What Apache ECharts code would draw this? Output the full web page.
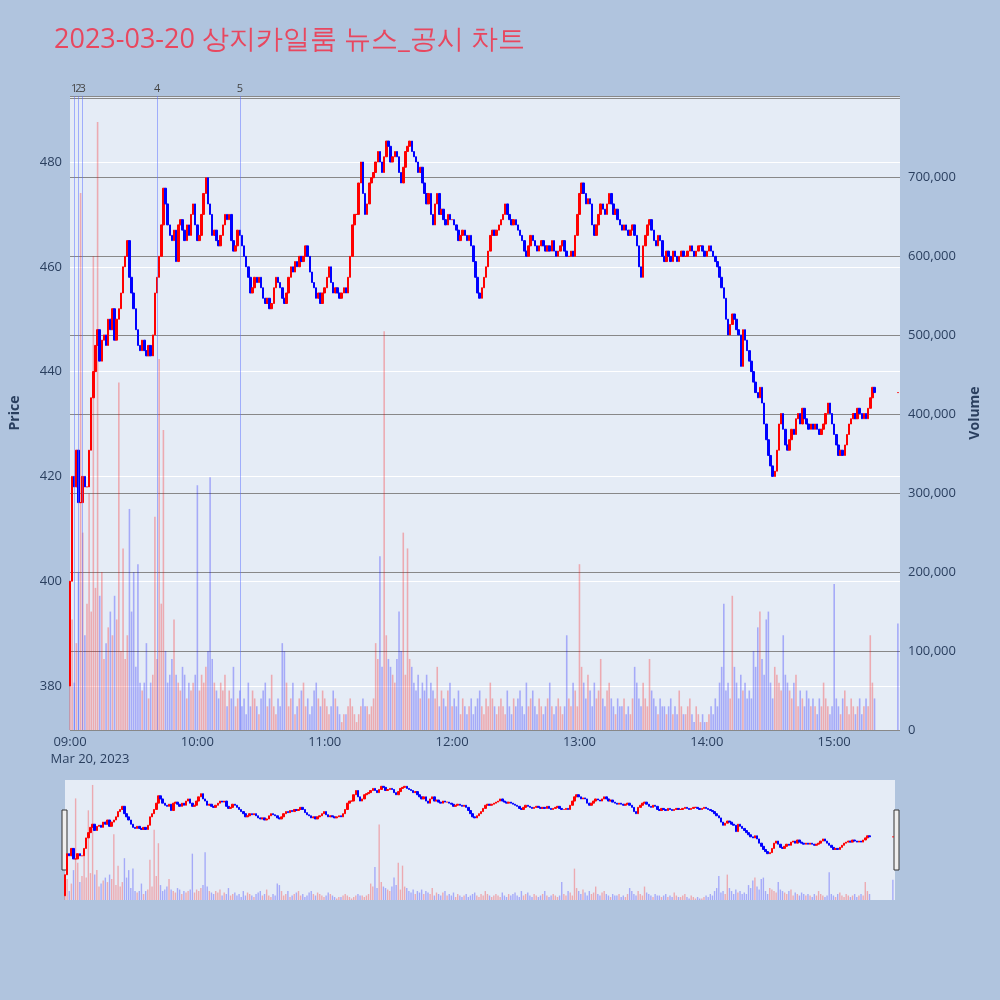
<!DOCTYPE html>
<html><head><meta charset="utf-8">
<script src="https://cdn.jsdelivr.net/npm/echarts@6/dist/echarts.min.js"></script>
<style>html,body{margin:0;background:#b0c4de}#main{width:1000px;height:1000px}</style>
</head><body><div id="main"></div>
<script>
// minutes since 09:00, one close per minute from 09:00 to 15:19, then 15:30 close
var firstOpen = 380;
var closes = [
  400,420,418,425,415,415,420,418,418,425,
  435,440,445,448,442,446,447,445,450,448,
  452,446,450,452,455,460,462,465,458,455,
  452,448,445,444,446,444,443,445,443,447,
  455,458,462,468,475,472,468,466,465,467,
  461,468,469,467,465,468,466,470,472,468,
  465,466,470,474,477,472,470,466,467,465,
  464,466,468,470,469,470,465,463,464,467,
  466,464,462,460,458,455,456,458,457,458,
  456,454,453,454,452,453,456,458,457,456,
  454,453,455,458,460,459,461,460,462,461,
  462,464,462,459,457,456,454,455,453,455,
  456,458,460,457,455,456,455,454,455,456,
  455,458,462,468,470,470,476,480,474,470,
  472,476,477,478,480,482,480,478,481,484,
  483,480,481,482,481,478,476,479,482,483,
  484,482,481,480,478,479,476,474,472,474,
  470,468,472,474,470,471,469,468,470,469,
  469,468,467,465,466,467,466,465,466,464,
  461,458,455,454,456,458,460,463,466,467,
  466,467,468,469,470,472,470,469,468,469,
  468,467,466,465,463,462,464,466,465,464,
  463,464,465,464,463,464,463,465,463,462,
  463,464,465,463,462,462,463,462,466,470,
  474,476,474,472,473,472,468,466,468,470,
  472,471,470,472,474,472,470,471,469,468,
  467,468,467,466,467,468,466,464,460,458,
  464,466,468,469,467,465,464,466,465,462,
  461,463,462,461,463,462,461,462,463,462,
  462,463,464,463,462,463,464,464,463,462,
  463,464,463,462,461,460,458,456,454,450,
  447,449,451,450,448,447,441,448,446,444,
  442,440,438,436,435,437,434,430,427,424,
  422,420,421,425,430,432,429,426,425,427,
  429,428,431,432,430,433,431,430,429,430,
  429,430,429,428,429,430,432,434,432,430,
  428,426,424,425,424,426,428,430,431,432,
  431,433,432,431,432,431,433,435,437,436
];
var closeMinute = 390;
var closePrice = 436;
var volumes = [
  90,140,60,110,200,680,250,120,160,300,
  150,600,180,770,170,200,90,110,130,150,
  120,170,140,440,100,230,90,120,280,150,
  200,80,210,60,50,60,110,40,60,70,
  270,90,470,160,380,100,60,70,90,140,
  70,60,50,80,70,40,60,50,60,70,
  310,50,70,60,80,100,320,90,60,50,
  40,60,50,70,30,50,40,80,30,40,
  50,30,40,20,60,30,50,40,30,20,
  40,50,60,30,40,70,30,20,40,30,
  110,100,60,30,40,60,20,30,40,50,
  60,30,40,20,30,50,60,40,30,50,
  40,30,20,30,50,40,30,20,10,20,
  20,30,40,30,20,10,20,30,40,30,
  30,20,30,40,110,90,220,80,505,120,
  90,80,70,60,90,150,100,250,70,230,
  90,80,60,50,70,40,60,50,70,40,
  60,50,40,80,30,50,40,30,50,60,
  30,40,30,50,20,40,30,20,30,40,
  20,30,40,50,30,20,40,30,60,40,
  30,20,30,40,30,20,50,30,20,40,
  30,40,50,30,20,60,30,40,50,30,
  20,40,30,20,30,40,60,30,20,30,
  40,30,20,30,120,40,30,60,50,30,
  210,80,60,40,70,50,30,60,40,50,
  90,40,30,50,60,40,30,20,40,30,
  30,40,20,30,20,40,80,60,40,30,
  60,40,30,90,50,40,30,20,40,30,
  30,20,30,40,20,30,20,50,30,20,
  20,30,40,20,10,30,20,10,20,10,
  10,20,30,20,40,30,60,80,160,50,
  60,40,170,80,60,40,70,50,60,40,
  50,40,100,80,130,150,90,70,140,150,
  60,40,80,70,60,50,120,70,60,50,
  40,60,70,30,50,40,30,50,40,30,
  40,30,20,40,30,60,40,30,20,30,
  185,40,30,20,40,50,30,20,40,30,
  20,30,40,20,30,40,30,120,60,40
];
var closeVolume = 135;
var newsMinutes = [2, 4, 6, 41, 80];
var newsLabels = ['1', '2', '3', '4', '5'];
var hourTicks = ['09:00', '10:00', '11:00', '12:00', '13:00', '14:00', '15:00'];

var UP = '#ff0000', DOWN = '#0000ff';
var candles = [], vols = [];
var prev = firstOpen;
closes.forEach(function (c, i) {
  var up = c >= prev;
  candles.push([i, prev, c, Math.min(prev, c), Math.max(prev, c)]);
  vols.push({ value: [i, volumes[i] * 1000], itemStyle: { color: up ? 'rgba(255,0,0,0.28)' : 'rgba(0,0,255,0.28)' } });
  prev = c;
});
candles.push([closeMinute, prev, closePrice, Math.min(prev, closePrice), Math.max(prev, closePrice)]);
vols.push({ value: [closeMinute, closeVolume * 1000], itemStyle: { color: 'rgba(0,0,255,0.28)' } });

var txt = '#2a3f5f';
var font = 'Open Sans, sans-serif';
var candleStyle = { color: UP, color0: DOWN, borderColor: UP, borderColor0: DOWN, borderWidth: 1 };

var chart = echarts.init(document.getElementById('main'));
chart.setOption({
  backgroundColor: '#b0c4de',
  animation: false,
  title: { text: '2023-03-20 상지카일룸 뉴스_공시 차트', left: 49, top: 22,
    textStyle: { color: '#e8475f', fontSize: 27, fontWeight: 'normal', fontFamily: font } },
  grid: [
    { left: 65, right: 100, top: 96, height: 634, show: true, backgroundColor: '#e5ecf6', borderWidth: 0 },
    { left: 65, width: 830, top: 780, height: 120, show: true, backgroundColor: '#e5ecf6', borderWidth: 0 }
  ],
  xAxis: [
    { type: 'value', gridIndex: 0, min: 0, max: 391, interval: 60,
      axisLine: { show: false }, axisTick: { show: false }, splitLine: { show: false },
      axisLabel: { color: txt, fontSize: 13, fontFamily: font, margin: 6, showMaxLabel: false,
        formatter: function (v) { var s = hourTicks[v / 60]; return v === 0 ? s + '\n{d|Mar 20, 2023}' : s; },
        rich: { d: { color: txt, fontSize: 13, fontFamily: font, padding: [4, 0, 0, 40] } } } },
    { type: 'value', gridIndex: 1, min: 0, max: 391, show: false }
  ],
  yAxis: [
    { type: 'value', gridIndex: 0, min: 371.6, max: 492.6, splitNumber: 6, position: 'left',
      name: 'Price', nameLocation: 'middle', nameGap: 48, nameRotate: 90,
      nameTextStyle: { color: txt, fontSize: 14, fontWeight: 'bold', fontFamily: font },
      axisLine: { show: false }, axisTick: { show: false },
      axisLabel: { color: txt, fontSize: 13, fontFamily: font, showMinLabel: false, showMaxLabel: false },
      splitLine: { lineStyle: { color: '#ffffff', width: 1 } } },
    { type: 'value', gridIndex: 0, min: 0, max: 803000, interval: 100000, position: 'right',
      name: 'Volume', nameLocation: 'middle', nameGap: 68, nameRotate: 90,
      nameTextStyle: { color: txt, fontSize: 14, fontWeight: 'bold', fontFamily: font },
      axisLine: { show: false }, axisTick: { show: false },
      axisLabel: { color: txt, fontSize: 13, fontFamily: font,
        formatter: function (v) { return v >= 800000 ? '' : v.toLocaleString('en-US'); } },
      splitLine: { lineStyle: { color: '#888888', width: 1 } } },
    { type: 'value', gridIndex: 1, min: 376, max: 490, show: false },
    { type: 'value', gridIndex: 1, min: 0, max: 803000, show: false }
  ],
  series: [
    { type: 'bar', xAxisIndex: 0, yAxisIndex: 1, data: vols, barWidth: 1.6, z: 1,
      markLine: { symbol: 'none', silent: true,
        lineStyle: { color: 'rgba(90,110,255,0.5)', width: 1, type: 'solid' },
        label: { position: 'end', color: '#444', fontSize: 11, fontFamily: font, distance: 2,
          formatter: function (p) { return newsLabels[p.dataIndex]; } },
        data: newsMinutes.map(function (m) { return { xAxis: m }; }) } },
    { type: 'candlestick', xAxisIndex: 0, yAxisIndex: 0, data: candles,
      encode: { x: 0, y: [1, 2, 3, 4] }, barWidth: 2, z: 3, itemStyle: candleStyle },
    { type: 'bar', xAxisIndex: 1, yAxisIndex: 3, data: vols, barWidth: 1.4 },
    { type: 'candlestick', xAxisIndex: 1, yAxisIndex: 2, data: candles, clip: true,
      encode: { x: 0, y: [1, 2, 3, 4] }, barWidth: 2, itemStyle: candleStyle }
  ],
  graphic: [
    { type: 'rect', shape: { x: 62, y: 810, width: 5, height: 60 }, style: { fill: '#eeeeee', stroke: '#333', lineWidth: 1 } },
    { type: 'rect', shape: { x: 894, y: 810, width: 5, height: 60 }, style: { fill: '#eeeeee', stroke: '#333', lineWidth: 1 } }
  ]
});
</script></body></html>
